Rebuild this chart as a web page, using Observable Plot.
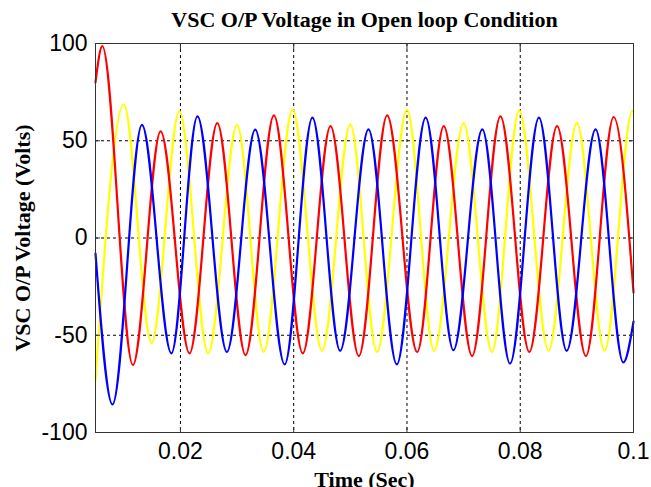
<!DOCTYPE html>
<html><head><meta charset="utf-8">
<script src="https://cdn.jsdelivr.net/npm/d3@7"></script>
<script src="https://cdn.jsdelivr.net/npm/@observablehq/plot@0.6"></script>
<style>html,body{margin:0;padding:0;background:#fff}</style>
</head><body><div id="chart"></div>
<script>
const titleText = "VSC O/P Voltage in Open loop Condition";
const xLabelText = "Time (Sec)";
const yLabelText = "VSC O/P Voltage (Volts)";
const xTicks = [0.02, 0.04, 0.06, 0.08, 0.1];
const xTickLabels = ["0.02", "0.04", "0.06", "0.08", "0.1"];
const yTicks = [-100, -50, 0, 50, 100];
const yTickLabels = ["-100", "-50", "0", "50", "100"];
const phaseNames = ["Phase B", "Phase A", "Phase C"];
const phaseColors = ["#ffff00", "#ff0000", "#0000ff"];

// extrema (peaks / troughs), plus the end points
const redTime  = [0.005, 0.0062, 0.0116, 0.0165, 0.0216, 0.0265, 0.0315, 0.0365, 0.0416, 0.0465, 0.0515, 0.0565, 0.0618, 0.0665, 0.0715, 0.0765, 0.0816, 0.0865, 0.0916, 0.0965, 0.1];
const redVolt  = [80, 98.6, -65.3, 54.8, -59.3, 59.1, -60.2, 63, -59.3, 57.5, -60.7, 63, -58.6, 57.5, -60.7, 62.5, -58.6, 57.5, -60.7, 62.2, -28];
const yellowTime = [0.005, 0.0100, 0.0149, 0.0198, 0.0249, 0.0300, 0.0347, 0.0398, 0.0450, 0.0500, 0.0547, 0.0600, 0.0648, 0.0700, 0.0750, 0.0798, 0.0850, 0.0900, 0.0949, 0.0998, 0.1];
const yellowVolt = [-73, 68.7, -54, 65.3, -59.3, 58.2, -58.6, 66, -58, 58.4, -58.6, 66, -58, 59.1, -58.6, 65.6, -58, 59.1, -58, 65.3, 65];
const blueTime = [0.005, 0.0080, 0.0132, 0.0184, 0.0230, 0.0282, 0.0332, 0.0384, 0.0433, 0.0482, 0.0532, 0.0582, 0.0633, 0.0682, 0.0733, 0.0782, 0.0833, 0.0882, 0.0933, 0.0982, 0.1];
const blueVolt = [-8, -85.6, 58.2, -59.3, 62.5, -58.6, 55.7, -65, 61.9, -58, 55.8, -65, 61.9, -57.7, 55.8, -64.6, 61.9, -58, 55.8, -64, -43];

const rows = [];
yellowTime.forEach((t, i) => rows.push({phase: phaseNames[0], t, v: yellowVolt[i]}));
redTime.forEach((t, i) => rows.push({phase: phaseNames[1], t, v: redVolt[i]}));
blueTime.forEach((t, i) => rows.push({phase: phaseNames[2], t, v: blueVolt[i]}));

const serif = "'Liberation Serif', 'Times New Roman', serif";
const sans = "'Liberation Sans', Arial, sans-serif";
const gridStyle = {stroke: "#000", strokeOpacity: 1, strokeWidth: 1, strokeDasharray: "3,3"};

const chart = Plot.plot({
  width: 651,
  height: 487,
  marginLeft: 95,
  marginRight: 18,
  marginTop: 43,
  marginBottom: 55,
  style: {background: "#fff", fontFamily: sans, color: "#000"},
  x: {domain: [0.005, 0.1]},
  y: {domain: [-100, 100]},
  color: {domain: phaseNames, range: phaseColors},
  marks: [
    Plot.gridX(xTicks, gridStyle),
    Plot.gridY(yTicks, gridStyle),
    Plot.line(rows, {x: "t", y: "v", z: "phase", stroke: "phase", curve: "monotone-x", strokeWidth: 2.2}),
    Plot.frame({stroke: "#333", strokeWidth: 1}),
    Plot.axisX(xTicks, {anchor: "bottom", tickSize: 0, tickPadding: 10, fontSize: 23, tickFormat: (d, i) => xTickLabels[i], label: null}),
    Plot.axisX(xTicks, {anchor: "bottom", tickSize: -5, stroke: "#333", tickFormat: () => "", label: null}),
    Plot.axisX(xTicks, {anchor: "top", tickSize: -5, stroke: "#333", tickFormat: () => "", label: null}),
    Plot.axisY(yTicks, {anchor: "left", tickSize: 0, tickPadding: 8, fontSize: 23, tickFormat: (d, i) => yTickLabels[i], label: null}),
    Plot.axisY(yTicks, {anchor: "left", tickSize: -5, stroke: "#333", tickFormat: () => "", label: null}),
    Plot.axisY(yTicks, {anchor: "right", tickSize: -5, stroke: "#333", tickFormat: () => "", label: null}),
    Plot.text([titleText], {frameAnchor: "top", lineAnchor: "bottom", dy: -17, fontSize: 22, fontWeight: "bold", fontFamily: serif, fill: "#000"}),
    Plot.text([xLabelText], {frameAnchor: "bottom", lineAnchor: "bottom", dy: 54, fontSize: 22, fontWeight: "bold", fontFamily: serif, fill: "#000"}),
    Plot.text([yLabelText], {frameAnchor: "left", textAnchor: "middle", lineAnchor: "middle", rotate: -90, dx: -73, fontSize: 22, fontWeight: "bold", fontFamily: serif, fill: "#000"})
  ]
});
document.getElementById("chart").appendChild(chart);
</script>
</body></html>
